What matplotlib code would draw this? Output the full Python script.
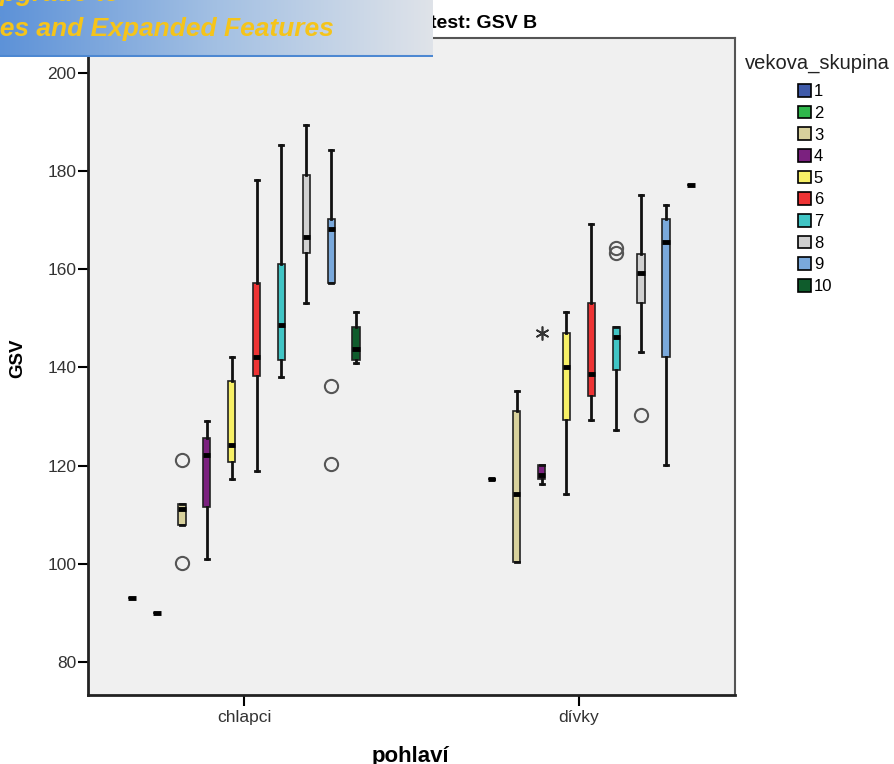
import numpy as np
import matplotlib
matplotlib.use("Agg")
import matplotlib.pyplot as plt
from matplotlib.patches import Patch
from matplotlib.colors import LinearSegmentedColormap

plt.rcParams['font.family'] = ['Liberation Sans', 'DejaVu Sans']

# vekova_skupina (age groups) within each pohlaví (sex)
groups = ['1', '2', '3', '4', '5', '6', '7', '8', '9', '10']
sexes = ['chlapci', 'dívky']
colors = ['#3f5aa9', '#2fb64b', '#d8d19c', '#7b217f', '#f7f066',
          '#ee3334', '#40c5c5', '#d0d0d0', '#7aa9dc', '#0f5c2c']

# chlapci - five-number summaries per age group
ch_whislo = [93, 90, 108.0, 101.0, 117.2, 119.0, 138.0, 153.2, 157.2, 141.0]
ch_q1 = [93, 90, 108.0, 111.5, 120.7, 138.3, 141.5, 163.3, 157.2, 141.5]
ch_med = [93, 90, 111.2, 122.2, 124.2, 142.1, 148.7, 166.6, 168.2, 143.7]
ch_q3 = [93, 90, 112.2, 125.7, 137.3, 157.2, 161.1, 179.2, 170.2, 148.2]
ch_whishi = [93, 90, 112.2, 129.2, 142.1, 178.2, 185.3, 189.3, 184.2, 151.2]
ch_outliers = [[], [], [121.1, 100.1], [], [], [], [], [], [136.2, 120.3], []]
ch_extremes = [[], [], [], [], [], [], [], [], [], []]

# divky - group 1 has no data
dv_whislo = [None, 117.2, 100.4, 116.3, 114.2, 129.3, 127.3, 143.1, 120.1, 177.2]
dv_q1 = [None, 117.2, 100.4, 117.2, 129.3, 134.2, 139.5, 153.1, 142.2, 177.2]
dv_med = [None, 117.2, 114.2, 118.1, 140.0, 138.7, 146.3, 159.2, 165.6, 177.2]
dv_q3 = [None, 117.2, 131.2, 120.1, 147.0, 153.1, 148.2, 163.1, 170.2, 177.2]
dv_whishi = [None, 117.2, 135.2, 120.1, 151.2, 169.2, 148.2, 175.1, 173.1, 177.2]
dv_outliers = [[], [], [], [], [], [], [164.3, 163.3], [130.3], [], []]
dv_extremes = [[], [], [], [147.0], [], [], [], [], [], []]

W, H = 894, 764
fig = plt.figure(figsize=(W / 100, H / 100), dpi=100)
ax = fig.add_axes([88 / W, 1 - 695 / H, 647 / W, 657 / H])
ax.set_facecolor('#f0f0f0')

step = 0.0744
box_w = 0.0224

data = [
    (ch_whislo, ch_q1, ch_med, ch_q3, ch_whishi, ch_outliers, ch_extremes),
    (dv_whislo, dv_q1, dv_med, dv_q3, dv_whishi, dv_outliers, dv_extremes),
]

for si, (wlo, q1, med, q3, whi, outl, extr) in enumerate(data):
    stats, pos, cols = [], [], []
    for gi in range(len(groups)):
        if med[gi] is None:
            continue
        stats.append(dict(whislo=wlo[gi], q1=q1[gi], med=med[gi], q3=q3[gi],
                          whishi=whi[gi], fliers=outl[gi]))
        pos.append(si + (gi - 4.5) * step)
        cols.append(colors[gi])
        if extr[gi]:
            ax.plot([si + (gi - 4.5) * step] * len(extr[gi]), extr[gi],
                    linestyle='none', marker=(6, 2, 0), ms=10, mew=1.2,
                    color='#333333', zorder=4)
    bp = ax.bxp(stats, positions=pos, widths=box_w, capwidths=0.012,
                patch_artist=True, manage_ticks=False,
                boxprops=dict(edgecolor='#222222', linewidth=1.2),
                whiskerprops=dict(color='#111111', linewidth=2),
                capprops=dict(color='#111111', linewidth=2),
                medianprops=dict(color='black', linewidth=3.5),
                flierprops=dict(marker='o', markerfacecolor='none',
                                markeredgecolor='#555555', markersize=9.5,
                                markeredgewidth=1.5))
    for patch, c in zip(bp['boxes'], cols):
        patch.set_facecolor(c)

ax.set_xlim(-0.466, 1.466)
ax.set_ylim(73.3, 207.1)
ax.set_xticks([0, 1])
ax.set_xticklabels(sexes, fontsize=12.5, color='#333333')
ax.set_yticks(np.arange(80, 201, 20))
ax.tick_params(axis='y', labelsize=12.5, labelcolor='#333333', length=7,
               width=1.5, pad=1.5)
ax.tick_params(axis='x', length=8, width=1.5, pad=3)

for s in ['left', 'bottom']:
    ax.spines[s].set_linewidth(2)
    ax.spines[s].set_color('#222222')
for s in ['top', 'right']:
    ax.spines[s].set_linewidth(1.5)
    ax.spines[s].set_color('#555555')

ax.set_ylabel('GSV', fontsize=13.5, fontweight='bold', va='center')
ax.yaxis.set_label_coords(-0.108, 0.512)
ax.set_xlabel('pohlaví', fontsize=16, fontweight='bold', va='baseline')
ax.xaxis.set_label_coords(0.499, -0.1015)

fig.text(430 / W, 1 - 28 / H, 'test: GSV B', fontsize=14, fontweight='bold',
         va='baseline', ha='left')

# legend: title placed separately, entries below it
fig.text(817 / W, 1 - 63 / H, 'vekova_skupina', ha='center', va='center',
         fontsize=14.5, color='#222222')
handles = [Patch(facecolor=c, edgecolor='black', linewidth=1.2) for c in colors]
fig.legend(handles, groups, loc='upper left',
           bbox_to_anchor=(798 / W, 1 - 84 / H), frameon=False, fontsize=12,
           borderpad=0, labelspacing=0.39, borderaxespad=0,
           handlelength=0.8, handleheight=0.8, handletextpad=0.15)

# banner overlay in the top-left corner
ax_b = fig.add_axes([0, 1 - 57 / H, 433 / W, 57 / H])
ax_b.set_zorder(10)
cmap = LinearSegmentedColormap.from_list('banner', ['#5d92d8', '#a3c0e3', '#dfe3e9'])
ax_b.imshow(np.linspace(0, 1, 256)[None, :], extent=[0, 433, 57, 0],
            aspect='auto', cmap=cmap)
ax_b.set_xlim(0, 433)
ax_b.set_ylim(57, 0)
ax_b.axhline(55.5, color='#4d88d2', linewidth=2.2)
ax_b.axis('off')
ax_b.text(120, 1, 'Upgrade to', ha='right', va='baseline', fontsize=19,
          fontweight='bold', style='italic', color='#f5c41a',
          clip_on=True, clip_box=ax_b.bbox)
ax_b.text(334, 36, 'Capabilities and Expanded Features', ha='right',
          va='baseline', fontsize=19, fontweight='bold', style='italic',
          color='#f5c41a', clip_on=True, clip_box=ax_b.bbox)

fig.savefig('out.png', dpi=100)
